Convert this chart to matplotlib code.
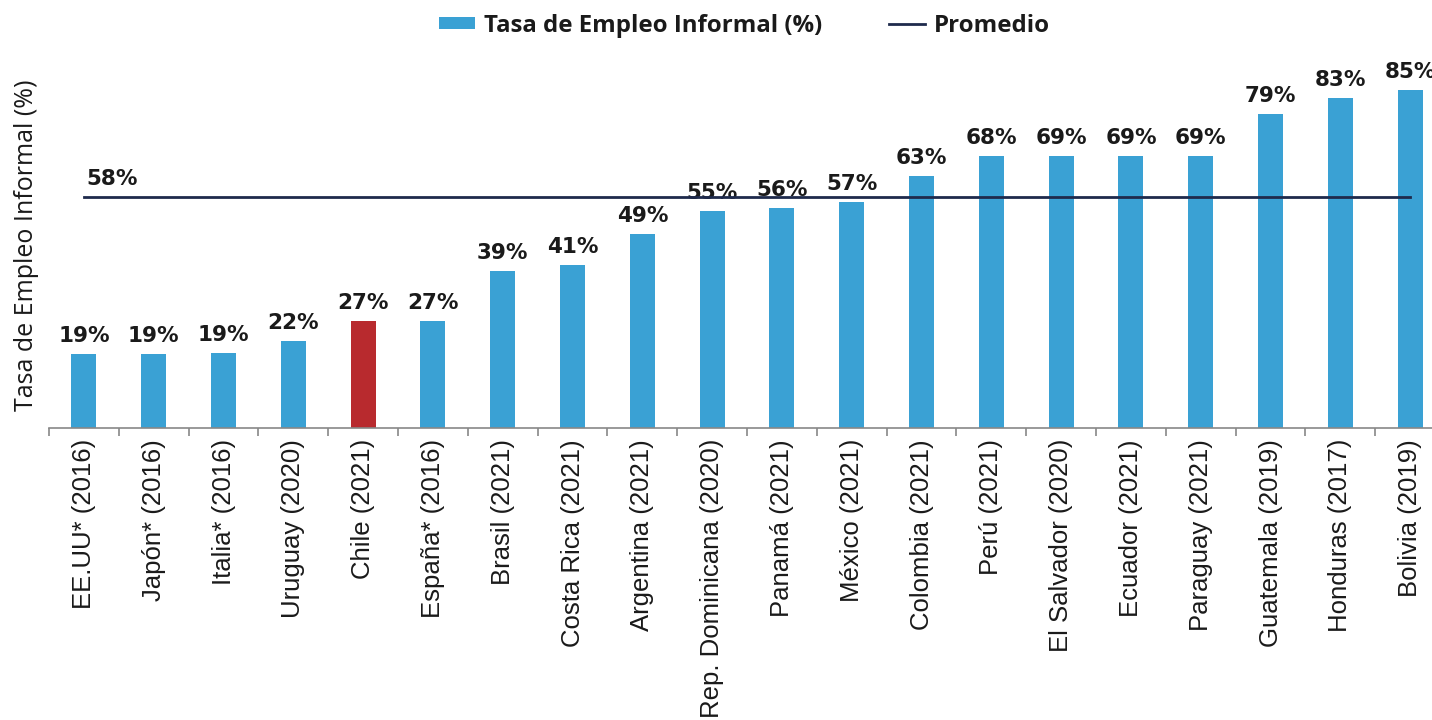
import matplotlib.pyplot as plt
import numpy as np

# data
paises = ["EE.UU* (2016)", "Japón* (2016)", "Italia* (2016)", "Uruguay (2020)",
          "Chile (2021)", "España* (2016)", "Brasil (2021)", "Costa Rica (2021)",
          "Argentina (2021)", "Rep. Dominicana (2020)", "Panamá (2021)",
          "México (2021)", "Colombia (2021)", "Perú (2021)", "El Salvador (2020)",
          "Ecuador (2021)", "Paraguay (2021)", "Guatemala (2019)",
          "Honduras (2017)", "Bolivia (2019)"]
tasa = [18.5, 18.5, 18.8, 21.9, 26.9, 26.9, 39.4, 41.0, 48.7, 54.5, 55.3, 56.8,
        63.3, 68.3, 68.5, 68.5, 68.5, 78.9, 82.9, 84.9]
etiquetas = ["19%", "19%", "19%", "22%", "27%", "27%", "39%", "41%", "49%", "55%",
             "56%", "57%", "63%", "68%", "69%", "69%", "69%", "79%", "83%", "85%"]
promedio = 58
destacado = "Chile (2021)"

azul = "#3aa1d4"
rojo = "#b82a2e"
navy = "#1e2a4c"
negro = "#1a1a1a"
plt.rcParams["font.family"] = ["Open Sans", "DejaVu Sans"]

fig = plt.figure(figsize=(14.32, 7.2), dpi=100)
W, H = 1432, 720
# axes spans past the right edge, as in the source image
ax = fig.add_axes([49 / W, (720 - 428) / H, 1396 / W, 358 / H])

x = np.arange(len(paises))
colores = [rojo if p == destacado else azul for p in paises]
barras = ax.bar(x, tasa, width=0.36, color=colores, zorder=2,
                label="Tasa de Empleo Informal (%)")
for xi, v, t in zip(x, tasa, etiquetas):
    ax.text(xi, v + 2.0, t, ha="center", va="bottom", fontsize=15.5,
            fontweight="bold", color=negro, family="DejaVu Sans")

linea, = ax.plot([x[0], x[-1]], [promedio, promedio], color=navy, lw=2,
                 zorder=3, label="Promedio")
ax.text(x[0] + 0.03, promedio + 2.0, "%d%%" % promedio, ha="left", va="bottom",
        fontsize=15.5, fontweight="bold", color=negro, family="DejaVu Sans")

ax.set_xlim(-0.5, len(paises) - 0.5)
ax.set_ylim(0, 90)
ax.set_yticks([])
ax.set_xticks(x)
ax.set_xticklabels(paises, rotation=90, fontsize=18.5, color=negro,
                   family="Liberation Sans")
ax.tick_params(axis="x", which="major", length=0, pad=8)
ax.set_xticks(np.arange(-0.5, len(paises)), minor=True)
ax.tick_params(axis="x", which="minor", length=6, color="#888888", width=1.2)
for s in ["top", "right", "left"]:
    ax.spines[s].set_visible(False)
ax.spines["bottom"].set_color("#888888")
ax.spines["bottom"].set_linewidth(1.2)
ax.set_ylabel("Tasa de Empleo Informal (%)", fontsize=18, color=negro)
ax.yaxis.set_label_coords(-0.0075, 0.51)

leg = fig.legend(handles=[barras, linea], loc="upper center",
                 bbox_to_anchor=(0.52, 1.011), ncol=2, frameon=False,
                 prop={"size": 17.3, "weight": "bold"}, handlelength=1.5,
                 handleheight=0.4, handletextpad=0.35, columnspacing=2.8)
for txt in leg.get_texts():
    txt.set_color(negro)

fig.savefig("out.png", dpi=100)
